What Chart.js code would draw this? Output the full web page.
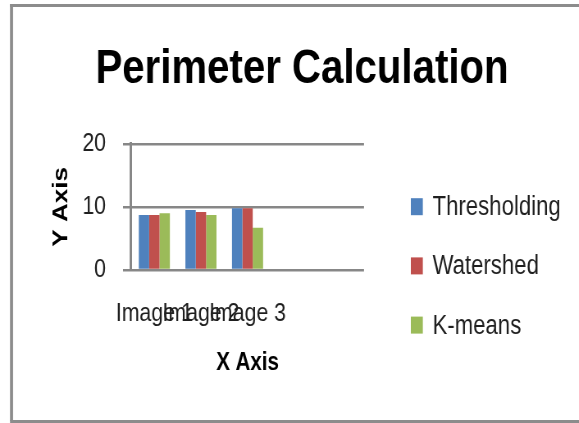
<!DOCTYPE html>
<html>
<head>
<meta charset="utf-8">
<title>Perimeter Calculation</title>
<script src="https://cdn.jsdelivr.net/npm/chart.js@4/dist/chart.umd.min.js"></script>
<style>
  html, body { margin: 0; padding: 0; background: #ffffff; overflow: hidden; }
  /* the drawing is laid out on a wider canvas and condensed horizontally */
  canvas { display: block; transform: scaleX(0.82); transform-origin: 0 0; }
</style>
</head>
<body>
<canvas id="chart" width="706" height="423"></canvas>
<script>
// Category labels along the x axis (two trailing empty slots in the category range)
const categories = ['Image 1', 'Image 2', 'Image 3', '', ''];

// Perimeter values per method
const thresholding = [8.7, 9.5, 9.8];
const watershed    = [8.7, 9.2, 9.8];
const kmeans       = [9.0, 8.7, 6.7];

const seriesNames = ['Thresholding', 'Watershed', 'K-means'];
const seriesColors = ['#4F81BD', '#C0504D', '#9BBB59'];

// Y axis tick values
const yTicks = [0, 10, 20];

const FONT = "'Liberation Sans', Arial, sans-serif";
const TEXT = '#1f1f1f';
const LINE = '#878787';

// Gray frame around the chart (open on the right, where it runs past the page)
const framePlugin = {
  id: 'frame',
  beforeDraw(chart) {
    const ctx = chart.ctx;
    ctx.save();
    ctx.fillStyle = '#ffffff';
    ctx.fillRect(0, 0, chart.width, chart.height);
    ctx.fillStyle = '#8c8c8c';
    ctx.fillRect(12.2, 4, 3.7, 417);        // left edge
    ctx.fillRect(12.2, 4, chart.width, 3);  // top edge
    ctx.fillRect(12.2, 420, chart.width, 3); // bottom edge
    ctx.restore();
  }
};

// Vertical legend listing each dataset with a colour key
const sideLegend = {
  id: 'sideLegend',
  afterDraw(chart, args, opts) {
    const ctx = chart.ctx;
    ctx.save();
    ctx.font = opts.font;
    ctx.textBaseline = 'middle';
    ctx.textAlign = 'left';
    chart.data.datasets.forEach((ds, i) => {
      const cy = opts.top + i * opts.spacing;
      ctx.fillStyle = ds.backgroundColor;
      ctx.fillRect(opts.x, cy - opts.boxH / 2, opts.boxW, opts.boxH);
      ctx.fillStyle = opts.color;
      ctx.fillText(ds.label, opts.x + opts.boxW + opts.gap, cy + 1);
    });
    ctx.restore();
  }
};

const seriesValues = [thresholding, watershed, kmeans];

new Chart(document.getElementById('chart'), {
  type: 'bar',
  data: {
    labels: categories,
    datasets: seriesNames.map((name, i) => ({
      label: name,
      data: seriesValues[i],
      backgroundColor: seriesColors[i],
      borderWidth: 0,
      categoryPercentage: 0.667,
      barPercentage: 1.0
    }))
  },
  options: {
    responsive: false,
    devicePixelRatio: 1,
    animation: false,
    layout: { padding: { left: 30.6, right: 0, top: 0, bottom: 0 } },
    plugins: {
      legend: { display: false },
      tooltip: { enabled: false },
      title: {
        display: true,
        text: 'Perimeter Calculation',
        color: '#000000',
        font: { family: FONT, size: 49, weight: 'bold', lineHeight: 1.2 },
        padding: { top: 40, bottom: 45 }
      },
      sideLegend: {
        x: 501, top: 206.7, spacing: 59.2,
        boxW: 14.6, boxH: 17, gap: 12,
        font: "27px " + FONT,
        color: TEXT
      }
    },
    scales: {
      x: {
        grid: { display: false, drawTicks: false },
        border: { display: false },
        ticks: {
          color: TEXT,
          font: { family: FONT, size: 26 },
          padding: 28,
          autoSkip: false,
          maxRotation: 0,
          minRotation: 0
        },
        title: {
          display: true,
          text: 'X Axis',
          color: '#000000',
          font: { family: FONT, size: 25, weight: 'bold', lineHeight: 1.2 },
          padding: { top: 0, bottom: 45 }
        },
        afterFit(scale) { scale.height = 153; }
      },
      y: {
        min: yTicks[0],
        max: yTicks[yTicks.length - 1],
        afterBuildTicks(scale) { scale.ticks = yTicks.map(v => ({ value: v })); },
        grid: { color: LINE, lineWidth: 2.5, tickLength: 9.8, drawTicks: true },
        border: { display: true, color: LINE, width: 3 },
        ticks: {
          color: TEXT,
          font: { family: FONT, size: 26 },
          padding: 20.7
        },
        title: {
          display: true,
          text: 'Y Axis',
          color: '#000000',
          font: { family: FONT, size: 26, weight: 'bold', lineHeight: 1.2 },
          padding: { top: 28.2, bottom: 0 }
        },
        afterFit(scale) { scale.width = 129.2; }
      },
      side: {
        type: 'linear',
        position: 'right',
        grid: { display: false, drawTicks: false },
        border: { display: false },
        ticks: { display: false },
        afterFit(scale) { scale.width = 262.1; }
      }
    }
  },
  plugins: [framePlugin, sideLegend]
});
</script>
</body>
</html>
